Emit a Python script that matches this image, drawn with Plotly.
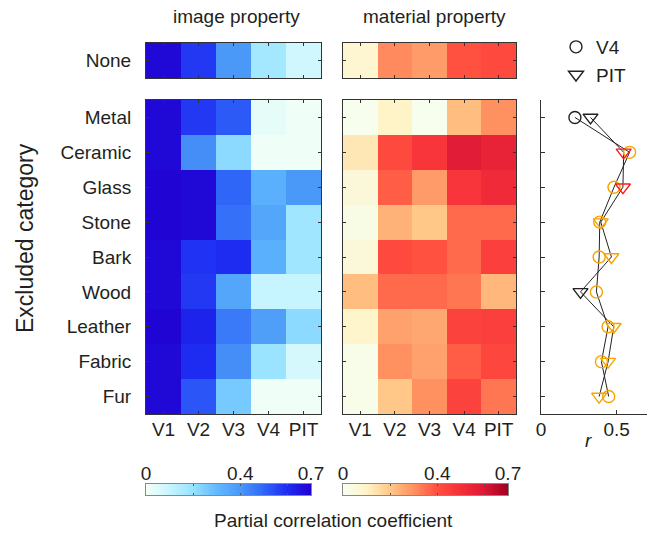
import numpy as np
import plotly.graph_objects as go

# ---- data -------------------------------------------------------------
categories = ["Metal", "Ceramic", "Glass", "Stone", "Bark",
              "Wood", "Leather", "Fabric", "Fur"]
areas = ["V1", "V2", "V3", "V4", "PIT"]

# partial correlation with no category excluded
image_none = [0.68, 0.58, 0.40, 0.17, 0.08]
material_none = [0.08, 0.31, 0.28, 0.40, 0.42]

# partial correlation with one category excluded (rows follow `categories`)
image_excl = [
    [0.68, 0.58, 0.52, 0.03, 0.01],
    [0.68, 0.42, 0.22, 0.01, 0.01],
    [0.69, 0.68, 0.50, 0.33, 0.40],
    [0.69, 0.68, 0.48, 0.36, 0.18],
    [0.68, 0.59, 0.60, 0.33, 0.18],
    [0.68, 0.58, 0.36, 0.10, 0.10],
    [0.69, 0.62, 0.46, 0.38, 0.22],
    [0.68, 0.60, 0.42, 0.19, 0.07],
    [0.68, 0.53, 0.26, 0.01, 0.01],
]
material_excl = [
    [0.01, 0.10, 0.01, 0.22, 0.30],
    [0.13, 0.42, 0.48, 0.58, 0.55],
    [0.06, 0.38, 0.28, 0.48, 0.52],
    [0.03, 0.24, 0.20, 0.36, 0.36],
    [0.06, 0.42, 0.40, 0.36, 0.45],
    [0.22, 0.36, 0.36, 0.34, 0.23],
    [0.09, 0.27, 0.26, 0.44, 0.45],
    [0.02, 0.30, 0.27, 0.38, 0.43],
    [0.02, 0.20, 0.30, 0.44, 0.34],
]

# correlation r per excluded category, with significance level (0 = n.s.)
r_v4 = [0.224, 0.585, 0.482, 0.388, 0.384, 0.366, 0.443, 0.399, 0.447]
r_pit = [0.327, 0.546, 0.541, 0.395, 0.465, 0.261, 0.480, 0.443, 0.384]
sig_v4 = [0, 1, 1, 1, 1, 1, 1, 1, 1]
sig_pit = [0, 2, 2, 1, 1, 0, 1, 1, 1]

cbar_ticks = [0, 0.4, 0.7]

# ---- styling ----------------------------------------------------------
W, H = 655, 534
FONT = "Liberation Sans, Arial, Helvetica, sans-serif"
TXT = "#231f20"
FRAME = "#333333"
ZMAX = 0.7

BLUES = [[0.0, "#f4fff6"], [0.143, "#c6f5ff"], [0.286, "#96e2ff"],
         [0.429, "#62baff"], [0.571, "#4a98f8"], [0.714, "#3066f8"],
         [0.857, "#1e2cf2"], [1.0, "#2000d0"]]
REDS = [[0.0, "#f6fff2"], [0.143, "#fff4c8"], [0.286, "#ffc888"],
        [0.429, "#ff9060"], [0.571, "#ff5040"], [0.714, "#f52e38"],
        [0.857, "#dc1836"], [1.0, "#a00020"]]
SIG_COLORS = {0: "#222222", 1: "#f7a400", 2: "#ff1a1a"}


def px(x):
    return x / W


def py(y):
    return 1 - y / H


def xdom(a, b):
    return [px(a), px(b)]


def ydom(top, bottom):
    return [py(bottom), py(top)]


fig = go.Figure()

# heatmaps: (axis index, z, y labels, colorscale)
panels = [
    (1, [image_none], ["None"], BLUES),
    (2, [material_none], ["None"], REDS),
    (3, image_excl, categories, BLUES),
    (4, material_excl, categories, REDS),
]
for idx, z, ylab, cs in panels:
    sfx = "" if idx == 1 else str(idx)
    fig.add_trace(go.Heatmap(
        z=z, x=areas, y=ylab, colorscale=cs, zmin=0, zmax=ZMAX,
        showscale=False, xaxis="x" + sfx, yaxis="y" + sfx,
        hoverinfo="skip"))

# r-values panel: connecting lines first, then markers on top
for vals in (r_v4, r_pit):
    fig.add_trace(go.Scatter(
        x=vals, y=list(range(len(categories))), mode="lines",
        line=dict(color="#222222", width=1), showlegend=False,
        xaxis="x5", yaxis="y5", hoverinfo="skip"))
for vals, sig, sym, size in ((r_v4, sig_v4, "circle-open", 12),
                              (r_pit, sig_pit, "triangle-down-open", 13)):
    fig.add_trace(go.Scatter(
        x=vals, y=list(range(len(categories))), mode="markers",
        marker=dict(symbol=sym, size=size,
                    color=[SIG_COLORS[s] for s in sig],
                    line=dict(width=1.4)),
        showlegend=False, xaxis="x5", yaxis="y5"))

# legend entries
for name, sym, size in (("V4", "circle-open", 12),
                        ("PIT", "triangle-down-open", 13)):
    fig.add_trace(go.Scatter(
        x=[None], y=[None], mode="markers", name=name,
        marker=dict(symbol=sym, size=size, color="#222222",
                    line=dict(width=1.4)),
        xaxis="x5", yaxis="y5"))

# colour bars drawn as gradient strips on their own axes
grad = np.linspace(0, ZMAX, 141)
for idx, cs in ((6, BLUES), (7, REDS)):
    fig.add_trace(go.Heatmap(
        z=[grad], x=grad, y=[0], colorscale=cs, zmin=0, zmax=ZMAX,
        showscale=False, xaxis="x%d" % idx, yaxis="y%d" % idx,
        hoverinfo="skip"))

tickfont = dict(family=FONT, size=19, color=TXT)


def heat_x(dom, ydomain_anchor, labels):
    return dict(domain=dom, anchor=ydomain_anchor, showgrid=False,
                zeroline=False, showline=True, linecolor=FRAME,
                linewidth=1, mirror="ticks", ticks="inside", ticklen=3,
                tickcolor=FRAME, showticklabels=labels, tickfont=tickfont,
                ticklabelstandoff=-2, fixedrange=True, automargin=False)


def heat_y(dom, xanchor, labels, reverse):
    d = dict(domain=dom, anchor=xanchor, showgrid=False, zeroline=False,
             showline=True, linecolor=FRAME, linewidth=1, mirror="ticks",
             ticks="inside", ticklen=3, tickcolor=FRAME,
             showticklabels=labels, tickfont=tickfont,
             ticklabelstandoff=10, fixedrange=True, automargin=False)
    if reverse:
        d["autorange"] = "reversed"
    return d


XB, XR = xdom(146, 321), xdom(343, 516)
YN, YM = ydom(43, 78), ydom(100, 414)

fig.update_layout(
    template="none",
    width=W, height=H, margin=dict(l=0, r=0, t=0, b=0, autoexpand=False),
    paper_bgcolor="white", plot_bgcolor="white",
    font=dict(family=FONT, size=19, color=TXT),
    xaxis=heat_x(XB, "y", False), yaxis=heat_y(YN, "x", True, False),
    xaxis2=heat_x(XR, "y2", False), yaxis2=heat_y(YN, "x2", False, False),
    xaxis3=heat_x(XB, "y3", True), yaxis3=heat_y(YM, "x3", True, True),
    xaxis4=heat_x(XR, "y4", True), yaxis4=heat_y(YM, "x4", False, True),
    xaxis5=dict(domain=xdom(541, 647), anchor="y5", range=[0, 0.7],
                tickvals=[0, 0.5], ticktext=["0", "0.5"], ticks="inside",
                ticklen=4, tickcolor=FRAME, showline=True, linecolor=FRAME,
                linewidth=1, showgrid=False, zeroline=False,
                tickfont=tickfont, ticklabelstandoff=-2,
                fixedrange=True, automargin=False),
    yaxis5=dict(domain=YM, anchor="x5", range=[len(categories) - 0.5, -0.5],
                tickvals=list(range(len(categories))), ticks="inside",
                ticklen=4, tickcolor=FRAME, showticklabels=False,
                showline=True, linecolor=FRAME, linewidth=1,
                showgrid=False, zeroline=False, fixedrange=True,
                automargin=False),
    legend=dict(x=px(556), y=py(28), xanchor="left", yanchor="top",
                bgcolor="rgba(0,0,0,0)", borderwidth=0,
                font=dict(family=FONT, size=19, color=TXT),
                tracegroupgap=0),
    showlegend=True,
)

for idx, dom in ((6, xdom(146, 311)), (7, xdom(343, 508))):
    fig.layout["xaxis%d" % idx] = dict(
        domain=dom, anchor="y%d" % idx, range=[0, ZMAX], side="top",
        tickvals=[0, 0.2, 0.4, 0.6, 0.7],
        ticktext=["0" if v == 0 else ("%g" % v if v in cbar_ticks else "")
                  for v in [0, 0.2, 0.4, 0.6, 0.7]],
        ticks="inside", ticklen=2, tickcolor="#555555", mirror="ticks",
        showline=True, linecolor="#888888", linewidth=1, showgrid=False,
        zeroline=False, tickfont=tickfont, ticklabelstandoff=-5,
        fixedrange=True, automargin=False)
    fig.layout["yaxis%d" % idx] = dict(
        domain=ydom(484, 495), anchor="x%d" % idx, range=[-0.5, 0.5],
        showticklabels=False, ticks="", showline=True, mirror=True,
        linecolor="#888888", linewidth=1, showgrid=False, zeroline=False,
        fixedrange=True, automargin=False)

annots = [
    dict(text="image property", x=px(236), y=py(17)),
    dict(text="material property", x=px(434), y=py(17)),
    dict(text="Partial correlation coefficient", x=px(333), y=py(520)),
    dict(text="<i>r</i>", x=px(588), y=py(440)),
    dict(text="Excluded category", x=px(25), y=py(238), textangle=-90,
         font=dict(family=FONT, size=23, color=TXT)),
]
for a in annots:
    a.setdefault("font", dict(family=FONT, size=19, color=TXT))
    fig.add_annotation(xref="paper", yref="paper", showarrow=False,
                       xanchor="center", yanchor="middle", **a)

fig.write_html("out.html")
